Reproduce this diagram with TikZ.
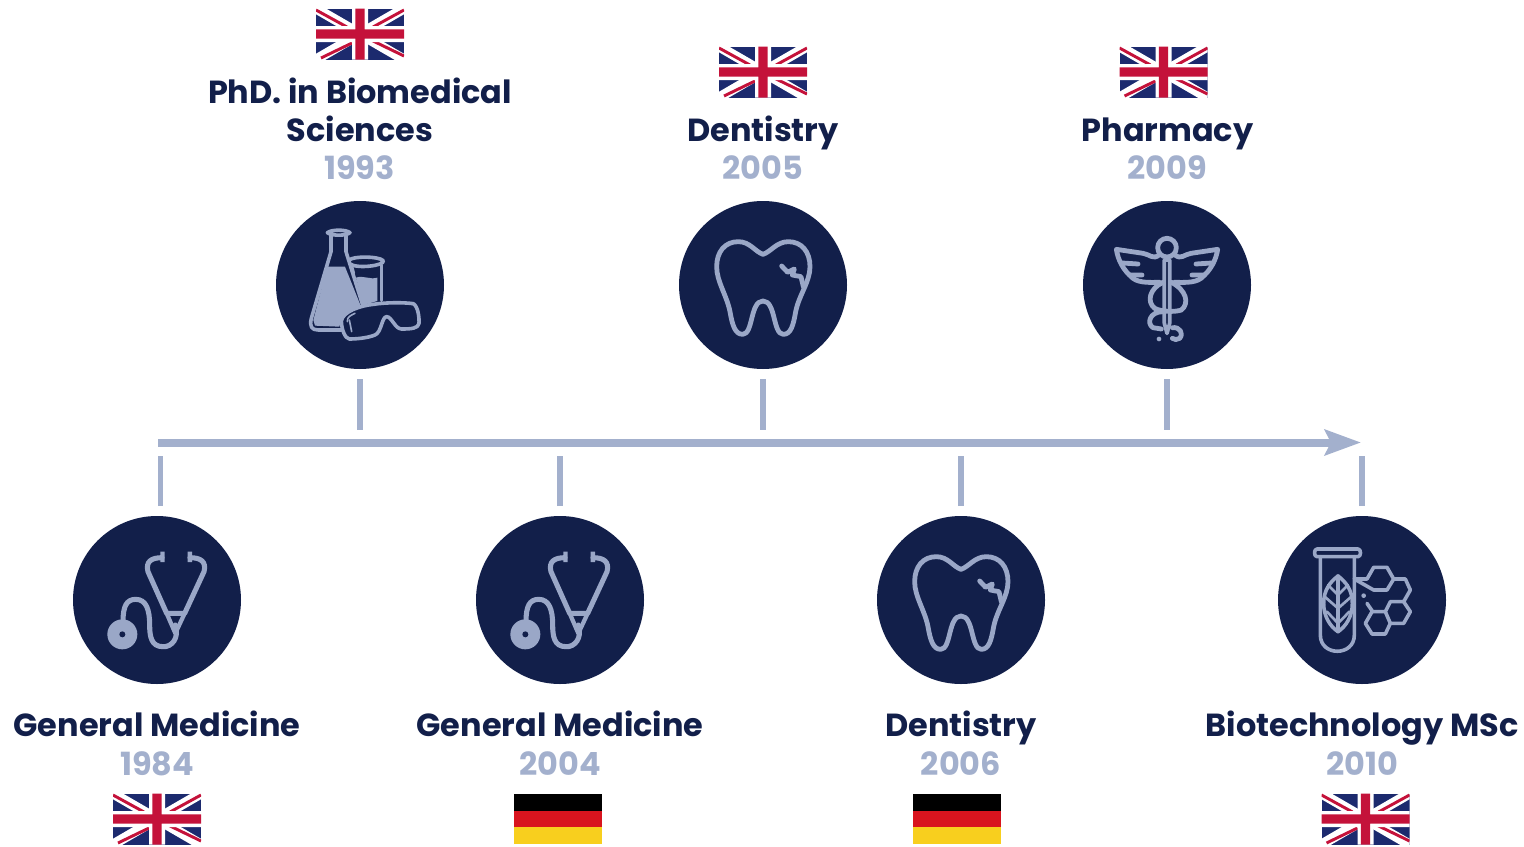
\documentclass[tikz,border=0pt]{standalone}
\usepackage{fontspec}
\setmainfont{Poppins}
\usetikzlibrary{arrows.meta}
\definecolor{navy}{HTML}{121F4A}
\definecolor{pale}{HTML}{A3B0CD}
\definecolor{iconc}{HTML}{9AA7C7}
\definecolor{ukblue}{HTML}{1C2A6E}
\definecolor{ukred}{HTML}{C4123A}
\definecolor{deyellow}{HTML}{F8CF1E}
\definecolor{dered}{HTML}{D8141E}
\tikzset{
 disc/.style={circle,fill=navy,minimum size=126pt,inner sep=0pt,draw=none},
 titletext/.style={font=\bfseries\fontsize{23.95}{28}\selectfont,text=navy,anchor=base,inner sep=0pt},
 yeartext/.style={font=\bfseries\fontsize{23.95}{28}\selectfont,text=pale,anchor=base,inner sep=0pt},
 tick/.style={draw=pale,line width=3.8pt},
 axisline/.style={draw=pale,line width=6pt,-{Stealth[length=27pt,width=19pt,inset=4.5pt,fill=pale]}},
 ic/.style={draw=iconc,line width=2.7pt,line cap=round,line join=round},
 icthick/.style={draw=iconc,line width=3.6pt,line cap=round,line join=round},
 pics/ukflag/.style={code={
  \begin{scope}
   \clip (-44,-25.5) rectangle (44,25.5);
   \fill[ukblue] (-44,-25.5) rectangle (44,25.5);
   \draw[white,line width=7.5pt] (-44,-25.5) -- (44,25.5) (-44,25.5) -- (44,-25.5);
   \draw[ukred,line width=2.2pt] (-44,-24) -- (-13,-7) (44,-24) -- (13,-7) (-39,24) -- (-8,9) (44,22) -- (9,5);
   \fill[white] (-8,-25.5) rectangle (8,25.5) (-44,-8) rectangle (44,8);
   \fill[ukred] (-4.6,-25.5) rectangle (4.6,25.5) (-44,-4.6) rectangle (44,4.6);
  \end{scope}}},
 pics/deflag/.style={code={
  \fill[black] (-43.5,-25) rectangle (44,-8.3);
  \fill[dered] (-43.5,-8.3) rectangle (44,8.3);
  \fill[deyellow] (-43.5,8.3) rectangle (44,25);}},
 pics/toothicon/.style={code={
  \begin{scope}[x=.25pt,y=-.25pt,shift={(-264,-270)}]
   \draw[icthick] (264,178) .. controls (240,170) and (225,140) .. (190,140)
     .. controls (150,140) and (125,170) .. (125,215)
     .. controls (125,260) and (155,300) .. (165,350)
     .. controls (172,390) and (180,418) .. (203,418)
     .. controls (235,418) and (225,318) .. (264,318)
     .. controls (303,318) and (293,418) .. (325,418)
     .. controls (348,418) and (355,390) .. (362,350)
     .. controls (372,300) and (405,260) .. (405,215)
     .. controls (405,170) and (380,140) .. (340,140)
     .. controls (305,140) and (288,170) .. (264,178) -- cycle;
   \draw[icthick] (320,213) -- (338,232) -- (358,222) -- (352,240) -- (378,245) -- (385,275);
  \end{scope}}},
 pics/stethicon/.style={code={
  \begin{scope}[x=.25pt,y=-.25pt,shift={(-267,-270)}]
   \draw[icthick,line width=3.8pt] (282,143) .. controls (250,143) and (232,155) .. (240,185) -- (296,310) -- (350,310) -- (408,185)
      .. controls (416,155) and (398,143) .. (366,143);
   \fill[iconc] (277,125) rectangle (290,156) (359,125) rectangle (372,156);
   \draw[icthick,line width=3.2pt] (296,310) -- (322,370) -- (350,310);
   \draw[icthick,line width=3.8pt] (322,345) .. controls (335,385) and (310,412) .. (285,410)
      .. controls (250,410) and (245,380) .. (245,345)
      .. controls (245,300) and (235,268) .. (203,268)
      .. controls (175,268) and (165,290) .. (165,335);
   \fill[iconc] (163,373) circle[radius=45];
   \fill[navy] (163,373) circle[radius=9];
  \end{scope}}},
 pics/labicon/.style={code={
  \begin{scope}[x=.25pt,y=-.25pt,shift={(-270,-270)}]
   % beaker
   \fill[iconc] (258,248) .. controls (280,240) and (300,255) .. (322,248) -- (322,318) -- (280,330) -- cycle;
   \draw[ic] (238,195) .. controls (250,183) and (325,183) .. (340,197) .. controls (345,212) and (262,222) .. (240,207);
   \draw[ic] (335,210) -- (335,316);
   \draw[ic] (244,212) -- (250,235);
   % flask
   \fill[iconc] (172,215) -- (225,215) -- (272,332) -- (215,370) -- (208,395) -- (135,392) -- (130,375) -- cycle;
   \draw[ic] (183,120) -- (183,170) -- (124,370) .. controls (118,395) and (125,405) .. (145,405) -- (215,405);
   \draw[ic] (228,122) -- (228,170) -- (278,330);
   \draw[ic,fill=navy] (172,113) .. controls (185,103) and (228,103) .. (240,113) .. controls (228,123) and (185,123) .. (172,113) -- cycle;
   % goggles
   \draw[ic,fill=navy] (214,378) .. controls (218,350) and (270,332) .. (310,328)
      .. controls (350,322) and (400,322) .. (430,326)
      .. controls (445,335) and (448,370) .. (447,385)
      .. controls (445,400) and (425,402) .. (395,402)
      .. controls (375,402) and (365,365) .. (350,365)
      .. controls (335,365) and (335,412) .. (315,420)
      .. controls (290,430) and (255,432) .. (238,432)
      .. controls (225,430) and (215,405) .. (214,378) -- cycle;
   \draw[ic,line width=1.2pt] (232,380) .. controls (230,365) and (245,360) .. (255,355);
   \draw[ic,line width=1.2pt] (238,375) -- (245,410);
  \end{scope}}},
 pics/caduceusicon/.style={code={
  \begin{scope}[x=.25pt,y=-.25pt,shift={(-267,-270)}]
   \foreach \s in {1,-1}{
    \begin{scope}[shift={(267,0)},xscale=\s,shift={(-267,0)}]
    \draw[icthick] (243,180) .. controls (225,195) and (215,178) .. (195,175) -- (115,163)
      .. controls (120,195) and (135,225) .. (165,250)
      .. controls (185,265) and (220,262) .. (245,262);
    \draw[icthick] (133,204) -- (180,207) (157,240) -- (192,240);
    \end{scope}}
   \draw[icthick] (267,158) circle[radius=28];
   \draw[icthick,line width=2.8pt] (259,195) -- (259,385) -- (267,415) -- (275,385) -- (275,195) -- cycle;
   \draw[icthick] (255,262) .. controls (215,280) and (205,320) .. (230,340)
     .. controls (250,350) and (290,352) .. (310,345)
     .. controls (335,325) and (325,285) .. (280,262);
   \draw[icthick] (255,350) .. controls (215,350) and (205,385) .. (225,398) -- (250,402);
   \draw[icthick] (283,398) .. controls (305,395) and (318,415) .. (305,430) .. controls (298,436) and (288,434) .. (283,430);
   \fill[iconc] (243,432) circle[radius=7];
  \end{scope}}},
 pics/biotechicon/.style={code={
  \begin{scope}[x=.25pt,y=-.25pt,shift={(-270,-270)}]
   \draw[ic] (135,117) -- (258,117) .. controls (268,117) and (268,140) .. (258,140) -- (135,140) .. controls (125,140) and (125,117) .. (135,117) -- cycle;
   \draw[ic] (145,140) -- (145,375) .. controls (145,440) and (247,440) .. (247,375) -- (247,140);
   \draw[ic] (198,198) .. controls (175,215) and (155,240) .. (155,280) .. controls (155,320) and (175,350) .. (198,365)
     .. controls (221,350) and (241,320) .. (241,280) .. controls (241,240) and (221,215) .. (198,198) -- cycle;
   \draw[ic] (198,198) -- (198,365);
   \draw[ic,line width=2pt] (198,255) -- (168,225) (198,255) -- (228,225) (198,295) -- (158,260) (198,295) -- (238,260) (198,340) -- (165,305) (198,340) -- (232,305);
   \draw[ic] (247,207) -- (285,207) -- (305,172) -- (345,172) -- (365,207) -- (345,240) -- (305,240) -- cycle;
   \draw[ic] (365,207) -- (400,207) -- (415,240) -- (395,275) -- (355,275) -- (340,305) -- (355,340) -- (395,340) -- (415,305) -- (395,275);
   \draw[ic] (355,340) -- (340,372) -- (300,372) -- (280,340) -- (300,305) -- (340,305);
   \draw[ic] (285,280) -- (302,305);
   \fill[iconc] (275,257) circle[radius=7];
  \end{scope}}}
}
\begin{document}
\begin{tikzpicture}[x=.75pt,y=-.75pt]
\useasboundingbox (0,0) rectangle (1524,846);
% top row
\node[disc] (c93) at (360,285) {};
\node[disc] (c05) at (763,285) {};
\node[disc] (c09) at (1167,285) {};
% bottom row
\node[disc] (c84) at (157,600) {};
\node[disc] (c04) at (560,600) {};
\node[disc] (c06) at (961,600) {};
\node[disc] (c10) at (1362,600) {};
% icons
\pic at (c93) {labicon};
\pic at (c05) {toothicon};
\pic at (c09) {caduceusicon};
\pic at (c84) {stethicon};
\pic at (c04) {stethicon};
\pic at (c06) {toothicon};
\pic at (c10) {biotechicon};
% flags
\pic at (360,34) {ukflag};
\pic at (763,72) {ukflag};
\pic at (1163.5,72) {ukflag};
\pic at (157,819) {ukflag};
\pic at (557.5,819) {deflag};
\pic at (956.5,819) {deflag};
\pic at (1365.5,819) {ukflag};
% labels
\node[titletext] (t93a) at (360,103) {PhD. in Biomedical};
\node[titletext] (t93b) at (360,141) {Sciences};
\node[yeartext] (y93) at (359.5,179.3) {1993};
\node[titletext] (t05) at (763,141) {Dentistry};
\node[yeartext] (y05) at (763,179.3) {2005};
\node[titletext] (t09) at (1167.5,141) {Pharmacy};
\node[yeartext] (y09) at (1167,179.3) {2009};
\node[titletext] (t84) at (157,736.3) {General Medicine};
\node[yeartext] (y84) at (157,775.3) {1984};
\node[titletext] (t04) at (560,736.3) {General Medicine};
\node[yeartext] (y04) at (560,775.3) {2004};
\node[titletext] (t06) at (961,736.3) {Dentistry};
\node[yeartext] (y06) at (961,775.3) {2006};
\node[titletext] (t10) at (1362,736.3) {Biotechnology MSc};
\node[yeartext] (y10) at (1362,775.3) {2010};
% axis
\coordinate (axisstart) at (158,442.5);
\coordinate (axisend) at (1361,442.5);
\draw[axisline] (axisstart) -- (axisend);
% ticks
\coordinate (a93) at (360,430); \coordinate (b93) at (360,379);
\coordinate (a05) at (763,430); \coordinate (b05) at (763,379);
\coordinate (a09) at (1167,430); \coordinate (b09) at (1167,379);
\coordinate (a84) at (160.5,456); \coordinate (b84) at (160.5,506);
\coordinate (a04) at (560,456); \coordinate (b04) at (560,506);
\coordinate (a06) at (961,456); \coordinate (b06) at (961,506);
\coordinate (a10) at (1362,456); \coordinate (b10) at (1362,506);
\foreach \k in {93,05,09,84,04,06,10}{\draw[tick] (b\k) -- (a\k);}
\end{tikzpicture}
\end{document}
